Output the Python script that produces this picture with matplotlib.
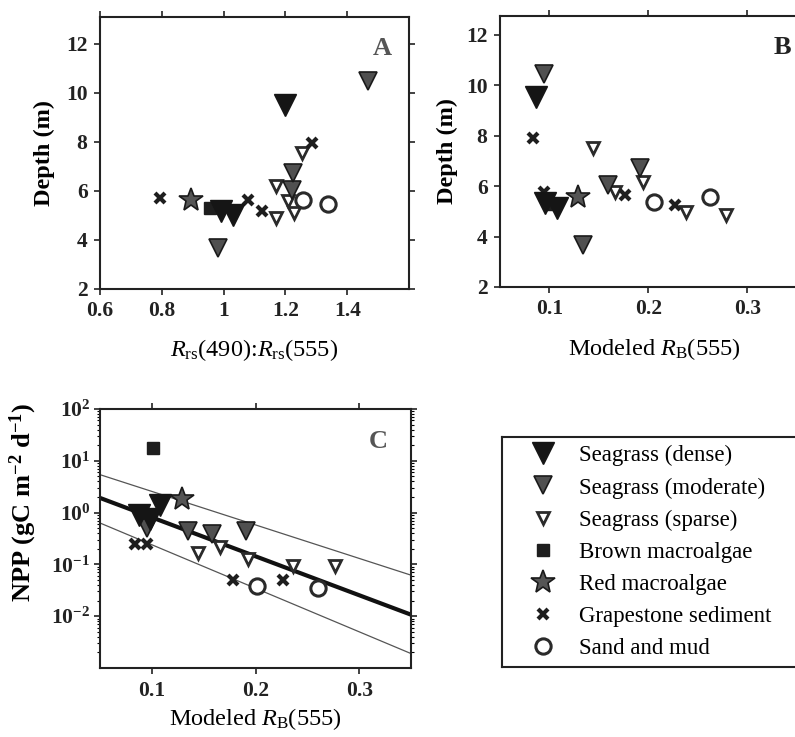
import matplotlib
matplotlib.use("Agg")
import matplotlib.pyplot as plt
from matplotlib.lines import Line2D
from matplotlib.ticker import FixedLocator, LogLocator, NullFormatter, FuncFormatter
import numpy as np

plt.rcParams['font.family'] = ['Liberation Serif', 'DejaVu Serif']
plt.rcParams['mathtext.fontset'] = 'custom'
plt.rcParams['mathtext.rm'] = 'Liberation Serif'
plt.rcParams['mathtext.it'] = 'Liberation Serif:italic'
plt.rcParams['mathtext.bf'] = 'Liberation Serif:bold'

# ---------------- data ----------------
categories = ["Seagrass (dense)", "Seagrass (moderate)", "Seagrass (sparse)",
              "Brown macroalgae", "Red macroalgae", "Grapestone sediment", "Sand and mud"]

# Panel A: Rrs(490):Rrs(555) vs depth
a_dense_x = [1.20, 0.99, 1.03]
a_dense_y = [9.5, 5.2, 5.0]
a_mod_x = [1.467, 0.983, 1.22, 1.225]
a_mod_y = [10.5, 3.67, 6.05, 6.75]
a_sparse_x = [1.255, 1.21, 1.17, 1.228, 1.17]
a_sparse_y = [7.55, 5.6, 6.2, 5.1, 4.9]
a_brown_x = [0.955]
a_brown_y = [5.3]
a_red_x = [0.893]
a_red_y = [5.63]
a_grape_x = [0.795, 1.078, 1.123, 1.286]
a_grape_y = [5.71, 5.63, 5.2, 7.95]
a_sand_x = [1.257, 1.337]
a_sand_y = [5.63, 5.47]

# Panel B: modeled RB(555) vs depth
b_dense_x = [0.086, 0.096, 0.108]
b_dense_y = [9.55, 5.33, 5.13]
b_mod_x = [0.095, 0.134, 0.159, 0.192]
b_mod_y = [10.45, 3.67, 6.05, 6.72]
b_sparse_x = [0.144, 0.166, 0.1945, 0.238, 0.279]
b_sparse_y = [7.5, 5.78, 6.18, 4.99, 4.86]
b_brown_x = [0.101]
b_brown_y = [5.3]
b_red_x = [0.129]
b_red_y = [5.57]
b_grape_x = [0.083, 0.095, 0.176, 0.227]
b_grape_y = [7.9, 5.77, 5.65, 5.25]
b_sand_x = [0.206, 0.262]
b_sand_y = [5.38, 5.58]

# Panel C: modeled RB(555) vs NPP
c_dense_x = [0.088, 0.098, 0.108]
c_dense_y = [0.9, 0.75, 1.43]
c_mod_x = [0.095, 0.135, 0.158, 0.191]
c_mod_y = [0.5, 0.44, 0.38, 0.44]
c_sparse_x = [0.145, 0.166, 0.193, 0.236, 0.277]
c_sparse_y = [0.168, 0.214, 0.129, 0.093, 0.093]
c_brown_x = [0.101]
c_brown_y = [17.5]
c_red_x = [0.129]
c_red_y = [1.8]
c_grape_x = [0.084, 0.095, 0.178, 0.227]
c_grape_y = [0.243, 0.243, 0.05, 0.05]
c_sand_x = [0.201, 0.26]
c_sand_y = [0.038, 0.035]

# regression fit (log scale) and its bounds at the axis ends
fit_x = [0.05, 0.35]
fit_mid = [1.92, 0.0107]
fit_upper = [5.4, 0.062]
fit_lower = [0.63, 0.0019]

# ---------------- styles ----------------
styles = {
    "dense": dict(marker='v', ms=15.5, mfc='#151515', mec='#151515', mew=1.0),
    "mod": dict(marker='v', ms=13, mfc='#505050', mec='#1a1a1a', mew=1.2),
    "sparse": dict(marker='v', ms=9, mfc='white', mec='#2a2a2a', mew=2.0),
    "brown": dict(marker='s', ms=9, mfc='#1e1e1e', mec='#1e1e1e', mew=1.0),
    "red": dict(marker='*', ms=18, mfc='#555555', mec='#1a1a1a', mew=1.2),
    "grape": dict(marker='x', ms=7.5, mfc='#1e1e1e', mec='#1e1e1e', mew=3.0),
    "sand": dict(marker='o', ms=11, mfc='white', mec='#2a2a2a', mew=2.2),
}
order = ["dense", "mod", "sparse", "brown", "red", "grape", "sand"]
draw_order = ["sparse", "sand", "grape", "brown", "mod", "dense", "red"]

W, H = 795, 737
fig = plt.figure(figsize=(W / 100, H / 100), dpi=100)


def rect(l, t, r, b):
    return [l / W, (H - b) / H, (r - l) / W, (b - t) / H]


TICKFS = 15.5
LABFS = 17.5
LETFS = 19


def style_axes(ax):
    for s in ax.spines.values():
        s.set_linewidth(1.5)
        s.set_color('#222222')
    ax.tick_params(which='major', direction='out', length=4, width=1.2, pad=5,
                   top=True, right=True, labelsize=TICKFS, colors='#222222')
    for lab in ax.get_xticklabels() + ax.get_yticklabels():
        lab.set_fontweight('bold')


def scatter_all(ax, data):
    for key in draw_order:
        xs, ys = data[key]
        ax.plot(xs, ys, ls='none', **styles[key], zorder=3)


# Panel A
axA = fig.add_axes(rect(100, 17, 409, 289))
scatter_all(axA, {
    "dense": (a_dense_x, a_dense_y), "mod": (a_mod_x, a_mod_y),
    "sparse": (a_sparse_x, a_sparse_y), "brown": (a_brown_x, a_brown_y),
    "red": (a_red_x, a_red_y), "grape": (a_grape_x, a_grape_y),
    "sand": (a_sand_x, a_sand_y)})
axA.set_xlim(0.6, 1.6)
axA.set_ylim(2, 13.1)
axA.set_xticks([0.6, 0.8, 1.0, 1.2, 1.4])
axA.set_xticklabels(['0.6', '0.8', '1', '1.2', '1.4'])
axA.set_yticks([2, 4, 6, 8, 10, 12])
style_axes(axA)
axA.set_xlabel(r'$R_{\mathrm{rs}}$(490):$R_{\mathrm{rs}}$(555)', fontsize=LABFS, labelpad=11)
axA.set_ylabel('Depth (m)', fontsize=LABFS, fontweight='bold', labelpad=8)
axA.text(0.915, 0.885, 'A', transform=axA.transAxes, fontsize=LETFS, fontweight='bold',
         color='#555555', ha='center', va='center')

# Panel B
axB = fig.add_axes(rect(500, 16, 809, 287))
scatter_all(axB, {
    "dense": (b_dense_x, b_dense_y), "mod": (b_mod_x, b_mod_y),
    "sparse": (b_sparse_x, b_sparse_y), "brown": (b_brown_x, b_brown_y),
    "red": (b_red_x, b_red_y), "grape": (b_grape_x, b_grape_y),
    "sand": (b_sand_x, b_sand_y)})
axB.set_xlim(0.05, 0.3625)
axB.set_ylim(2, 12.75)
axB.set_xticks([0.1, 0.2, 0.3])
axB.set_yticks([2, 4, 6, 8, 10, 12])
style_axes(axB)
axB.set_xlabel(r'Modeled $R_{\mathrm{B}}$(555)', fontsize=LABFS, labelpad=12)
axB.set_ylabel('Depth (m)', fontsize=LABFS, fontweight='bold', labelpad=6)
axB.text(0.915, 0.885, 'B', transform=axB.transAxes, fontsize=LETFS, fontweight='bold',
         color='#222222', ha='center', va='center')

# Panel C
axC = fig.add_axes(rect(100, 409, 411, 668))
axC.set_yscale('log')
axC.plot(fit_x, fit_upper, color='#555555', lw=0.9, zorder=2)
axC.plot(fit_x, fit_lower, color='#555555', lw=0.9, zorder=2)
axC.plot(fit_x, fit_mid, color='#111111', lw=3.0, zorder=2)
scatter_all(axC, {
    "dense": (c_dense_x, c_dense_y), "mod": (c_mod_x, c_mod_y),
    "sparse": (c_sparse_x, c_sparse_y), "brown": (c_brown_x, c_brown_y),
    "red": (c_red_x, c_red_y), "grape": (c_grape_x, c_grape_y),
    "sand": (c_sand_x, c_sand_y)})
axC.set_xlim(0.05, 0.35)
axC.set_ylim(1e-3, 1e2)
axC.set_xticks([0.1, 0.2, 0.3])
axC.yaxis.set_major_locator(FixedLocator([1e-2, 1e-1, 1e0, 1e1, 1e2]))
axC.yaxis.set_major_formatter(FuncFormatter(
    lambda v, p: r'$\mathbf{10^{%d}}$' % int(round(np.log10(v)))))
axC.yaxis.set_minor_locator(LogLocator(base=10, subs=np.arange(2, 10), numticks=20))
axC.yaxis.set_minor_formatter(NullFormatter())
style_axes(axC)
axC.tick_params(which='minor', direction='out', length=2, width=0.8, right=True, left=True)
axC.tick_params(axis='y', which='major', pad=3)
axC.set_xlabel(r'Modeled $R_{\mathrm{B}}$(555)', fontsize=LABFS, labelpad=4)
axC.set_ylabel(r'NPP (gC m$^{\mathbf{-2}}$ d$^{\mathbf{-1}}$)', fontsize=19,
               fontweight='bold')
axC.yaxis.set_label_coords(-0.195, 0.64)
axC.text(0.895, 0.875, 'C', transform=axC.transAxes, fontsize=LETFS, fontweight='bold',
         color='#555555', ha='center', va='center')

# Legend box
axL = fig.add_axes(rect(502, 437, 840, 667))
axL.set_xticks([])
axL.set_yticks([])
for s in axL.spines.values():
    s.set_linewidth(1.5)
    s.set_color('#222222')
handles = [Line2D([], [], ls='none', **styles[k]) for k in order]
axL.legend(handles, categories, loc='center left', bbox_to_anchor=(0.078, 0.5),
           frameon=False, fontsize=16.5, handlelength=1.3, handletextpad=0.9,
           labelspacing=0.48, borderaxespad=0.0, borderpad=0.0, markerscale=1.0)

fig.savefig('out.png', dpi=100)
